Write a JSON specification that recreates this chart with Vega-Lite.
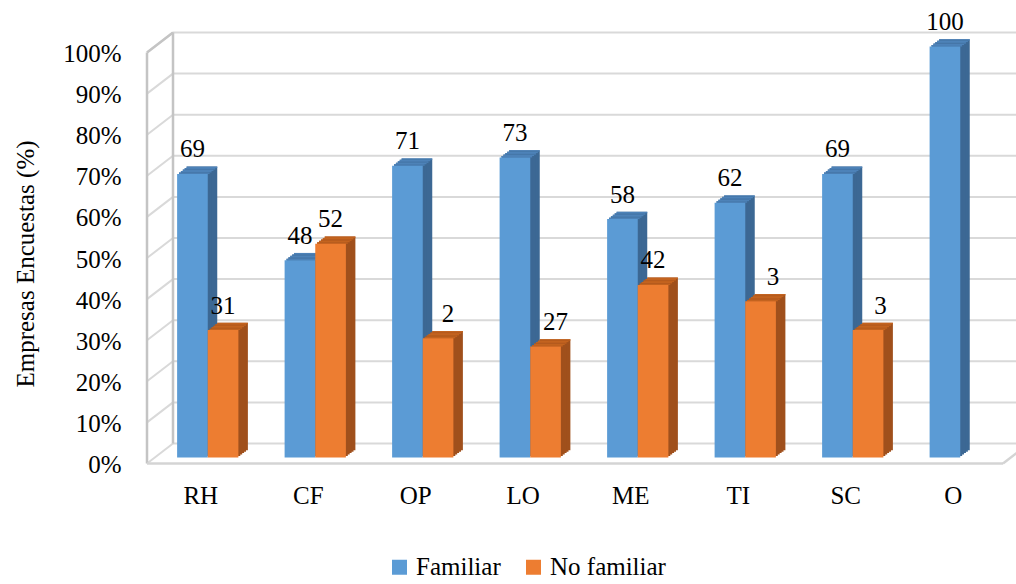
{
  "$schema": "https://vega.github.io/schema/vega-lite/v6.json",
  "width": 860,
  "height": 411,
  "autosize": {"type": "none"},
  "padding": {"left": 154, "top": 46.5, "right": 2, "bottom": 126.5},
  "background": "white",
  "config": {"view": {"stroke": null}, "font": "serif"},
  "datasets": {
    "bars": [
      {"cat": "RH", "s": "Familiar", "v": 69, "label": "69"},
      {"cat": "RH", "s": "No familiar", "v": 31, "label": "31"},
      {"cat": "CF", "s": "Familiar", "v": 48, "label": "48"},
      {"cat": "CF", "s": "No familiar", "v": 52, "label": "52"},
      {"cat": "OP", "s": "Familiar", "v": 71, "label": "71"},
      {"cat": "OP", "s": "No familiar", "v": 29, "label": "2"},
      {"cat": "LO", "s": "Familiar", "v": 73, "label": "73"},
      {"cat": "LO", "s": "No familiar", "v": 27, "label": "27"},
      {"cat": "ME", "s": "Familiar", "v": 58, "label": "58"},
      {"cat": "ME", "s": "No familiar", "v": 42, "label": "42"},
      {"cat": "TI", "s": "Familiar", "v": 62, "label": "62"},
      {"cat": "TI", "s": "No familiar", "v": 38, "label": "3"},
      {"cat": "SC", "s": "Familiar", "v": 69, "label": "69"},
      {"cat": "SC", "s": "No familiar", "v": 31, "label": "3"},
      {"cat": "O", "s": "Familiar", "v": 100, "label": "100"}
    ],
    "ticks": [{"t": 0}, {"t": 10}, {"t": 20}, {"t": 30}, {"t": 40}, {"t": 50}, {"t": 60}, {"t": 70}, {"t": 80}, {"t": 90}, {"t": 100}]
  },
  "data": {"name": "bars"},
  "layer": [
    {
      "data": {"name": "ticks"},
      "mark": {"type": "rule", "stroke": "#d9d9d9", "strokeWidth": 2, "xOffset": -34.75, "x2Offset": 70, "yOffset": -14},
      "encoding": {
        "x": {"datum": "RH", "type": "nominal", "scale": {"domain": ["RH","CF","OP","LO","ME","TI","SC","O"], "paddingInner": 0.43, "paddingOuter": 0.215}},
        "x2": {"datum": "O"},
        "y": {"field": "t", "type": "quantitative", "scale": {"domain": [0, 100]}}
      }
    },
    {
      "data": {"name": "ticks"},
      "mark": {"type": "rule", "stroke": "#d9d9d9", "strokeWidth": 2, "xOffset": -34.75, "x2Offset": -60.75, "yOffset": -14, "y2Offset": 6},
      "encoding": {
        "x": {"datum": "RH", "type": "nominal", "scale": {"domain": ["RH","CF","OP","LO","ME","TI","SC","O"], "paddingInner": 0.43, "paddingOuter": 0.215}},
        "x2": {"datum": "RH"},
        "y": {"field": "t", "type": "quantitative", "scale": {"domain": [0, 100]}},
        "y2": {"field": "t"}
      }
    },
    {
      "data": {"values": [{}]},
      "mark": {"type": "rule", "stroke": "#c4c4c4", "strokeWidth": 2.5, "xOffset": -34.75, "x2Offset": -60.75, "yOffset": -14, "y2Offset": 6},
      "encoding": {
        "x": {"datum": "RH", "type": "nominal", "scale": {"domain": ["RH","CF","OP","LO","ME","TI","SC","O"], "paddingInner": 0.43, "paddingOuter": 0.215}},
        "x2": {"datum": "RH"},
        "y": {"datum": 100, "type": "quantitative", "scale": {"domain": [0, 100]}},
        "y2": {"datum": 100}
      }
    },
    {
      "data": {"values": [{}]},
      "mark": {"type": "rule", "stroke": "#c4c4c4", "strokeWidth": 2.5, "xOffset": -34.75, "yOffset": -14, "y2Offset": -14},
      "encoding": {
        "x": {"datum": "RH", "type": "nominal", "scale": {"domain": ["RH","CF","OP","LO","ME","TI","SC","O"], "paddingInner": 0.43, "paddingOuter": 0.215}},
        "y": {"datum": 100, "type": "quantitative", "scale": {"domain": [0, 100]}},
        "y2": {"datum": 0}
      }
    },
    {
      "data": {"values": [{}]},
      "mark": {"type": "rule", "stroke": "#c4c4c4", "strokeWidth": 2.5, "xOffset": -60.75, "yOffset": 6, "y2Offset": 6},
      "encoding": {
        "x": {"datum": "RH", "type": "nominal", "scale": {"domain": ["RH","CF","OP","LO","ME","TI","SC","O"], "paddingInner": 0.43, "paddingOuter": 0.215}},
        "y": {"datum": 100, "type": "quantitative", "scale": {"domain": [0, 100]}},
        "y2": {"datum": 0}
      }
    },
    {
      "data": {"values": [{}]},
      "mark": {"type": "rule", "stroke": "#d4d4d4", "strokeWidth": 2.5, "xOffset": -60.75, "x2Offset": 42.75, "yOffset": 6},
      "encoding": {
        "x": {"datum": "RH", "type": "nominal", "scale": {"domain": ["RH","CF","OP","LO","ME","TI","SC","O"], "paddingInner": 0.43, "paddingOuter": 0.215}},
        "x2": {"datum": "O"},
        "y": {"datum": 0, "type": "quantitative", "scale": {"domain": [0, 100]}}
      }
    },
    {
      "data": {"values": [{}]},
      "mark": {"type": "rule", "stroke": "#d4d4d4", "strokeWidth": 2.5, "xOffset": 42.75, "x2Offset": 68.75, "yOffset": 6, "y2Offset": -14},
      "encoding": {
        "x": {"datum": "O", "type": "nominal", "scale": {"domain": ["RH","CF","OP","LO","ME","TI","SC","O"], "paddingInner": 0.43, "paddingOuter": 0.215}},
        "x2": {"datum": "O"},
        "y": {"datum": 0, "type": "quantitative", "scale": {"domain": [0, 100]}},
        "y2": {"datum": 0}
      }
    },
    {
      "mark": {"type": "bar", "yOffset": -7.3, "y2Offset": -7.3},
      "encoding": {
        "x": {"field": "cat", "type": "nominal", "scale": {"domain": ["RH","CF","OP","LO","ME","TI","SC","O"], "paddingInner": 0.43, "paddingOuter": 0.215}},
        "xOffset": {"field": "s", "type": "nominal", "scale": {"domain": ["Familiar", "No familiar"], "range": [9.5, 70.775], "paddingInner": 0, "paddingOuter": 0}},
        "y": {"field": "v", "type": "quantitative", "scale": {"domain": [0, 100]}},
        "color": {"condition": {"test": "datum.s === 'Familiar'", "value": "#3c6894"}, "value": "#a0501c"}
      }
    },
    {
      "mark": {"type": "bar", "yOffset": -7.3, "y2Offset": -5.84},
      "encoding": {
        "x": {"field": "cat", "type": "nominal", "scale": {"domain": ["RH","CF","OP","LO","ME","TI","SC","O"], "paddingInner": 0.43, "paddingOuter": 0.215}},
        "xOffset": {"field": "s", "type": "nominal", "scale": {"domain": ["Familiar", "No familiar"], "range": [9.5, 70.775], "paddingInner": 0, "paddingOuter": 0}},
        "y": {"field": "v", "type": "quantitative", "scale": {"domain": [0, 100]}},
        "y2": {"field": "v"},
        "color": {"condition": {"test": "datum.s === 'Familiar'", "value": "#4d82b8"}, "value": "#c3631f"}
      }
    },
    {
      "mark": {"type": "bar", "yOffset": -5.84, "y2Offset": -5.84},
      "encoding": {
        "x": {"field": "cat", "type": "nominal", "scale": {"domain": ["RH","CF","OP","LO","ME","TI","SC","O"], "paddingInner": 0.43, "paddingOuter": 0.215}},
        "xOffset": {"field": "s", "type": "nominal", "scale": {"domain": ["Familiar", "No familiar"], "range": [7.6, 68.875], "paddingInner": 0, "paddingOuter": 0}},
        "y": {"field": "v", "type": "quantitative", "scale": {"domain": [0, 100]}},
        "color": {"condition": {"test": "datum.s === 'Familiar'", "value": "#3c6894"}, "value": "#a0501c"}
      }
    },
    {
      "mark": {"type": "bar", "yOffset": -5.84, "y2Offset": -4.38},
      "encoding": {
        "x": {"field": "cat", "type": "nominal", "scale": {"domain": ["RH","CF","OP","LO","ME","TI","SC","O"], "paddingInner": 0.43, "paddingOuter": 0.215}},
        "xOffset": {"field": "s", "type": "nominal", "scale": {"domain": ["Familiar", "No familiar"], "range": [7.6, 68.875], "paddingInner": 0, "paddingOuter": 0}},
        "y": {"field": "v", "type": "quantitative", "scale": {"domain": [0, 100]}},
        "y2": {"field": "v"},
        "color": {"condition": {"test": "datum.s === 'Familiar'", "value": "#4d82b8"}, "value": "#c3631f"}
      }
    },
    {
      "mark": {"type": "bar", "yOffset": -4.38, "y2Offset": -4.38},
      "encoding": {
        "x": {"field": "cat", "type": "nominal", "scale": {"domain": ["RH","CF","OP","LO","ME","TI","SC","O"], "paddingInner": 0.43, "paddingOuter": 0.215}},
        "xOffset": {"field": "s", "type": "nominal", "scale": {"domain": ["Familiar", "No familiar"], "range": [5.7, 66.975], "paddingInner": 0, "paddingOuter": 0}},
        "y": {"field": "v", "type": "quantitative", "scale": {"domain": [0, 100]}},
        "color": {"condition": {"test": "datum.s === 'Familiar'", "value": "#3c6894"}, "value": "#a0501c"}
      }
    },
    {
      "mark": {"type": "bar", "yOffset": -4.38, "y2Offset": -2.92},
      "encoding": {
        "x": {"field": "cat", "type": "nominal", "scale": {"domain": ["RH","CF","OP","LO","ME","TI","SC","O"], "paddingInner": 0.43, "paddingOuter": 0.215}},
        "xOffset": {"field": "s", "type": "nominal", "scale": {"domain": ["Familiar", "No familiar"], "range": [5.7, 66.975], "paddingInner": 0, "paddingOuter": 0}},
        "y": {"field": "v", "type": "quantitative", "scale": {"domain": [0, 100]}},
        "y2": {"field": "v"},
        "color": {"condition": {"test": "datum.s === 'Familiar'", "value": "#4d82b8"}, "value": "#c3631f"}
      }
    },
    {
      "mark": {"type": "bar", "yOffset": -2.92, "y2Offset": -2.92},
      "encoding": {
        "x": {"field": "cat", "type": "nominal", "scale": {"domain": ["RH","CF","OP","LO","ME","TI","SC","O"], "paddingInner": 0.43, "paddingOuter": 0.215}},
        "xOffset": {"field": "s", "type": "nominal", "scale": {"domain": ["Familiar", "No familiar"], "range": [3.8, 65.075], "paddingInner": 0, "paddingOuter": 0}},
        "y": {"field": "v", "type": "quantitative", "scale": {"domain": [0, 100]}},
        "color": {"condition": {"test": "datum.s === 'Familiar'", "value": "#3c6894"}, "value": "#a0501c"}
      }
    },
    {
      "mark": {"type": "bar", "yOffset": -2.92, "y2Offset": -1.46},
      "encoding": {
        "x": {"field": "cat", "type": "nominal", "scale": {"domain": ["RH","CF","OP","LO","ME","TI","SC","O"], "paddingInner": 0.43, "paddingOuter": 0.215}},
        "xOffset": {"field": "s", "type": "nominal", "scale": {"domain": ["Familiar", "No familiar"], "range": [3.8, 65.075], "paddingInner": 0, "paddingOuter": 0}},
        "y": {"field": "v", "type": "quantitative", "scale": {"domain": [0, 100]}},
        "y2": {"field": "v"},
        "color": {"condition": {"test": "datum.s === 'Familiar'", "value": "#4d82b8"}, "value": "#c3631f"}
      }
    },
    {
      "mark": {"type": "bar", "yOffset": -1.46, "y2Offset": -1.46},
      "encoding": {
        "x": {"field": "cat", "type": "nominal", "scale": {"domain": ["RH","CF","OP","LO","ME","TI","SC","O"], "paddingInner": 0.43, "paddingOuter": 0.215}},
        "xOffset": {"field": "s", "type": "nominal", "scale": {"domain": ["Familiar", "No familiar"], "range": [1.9, 63.175], "paddingInner": 0, "paddingOuter": 0}},
        "y": {"field": "v", "type": "quantitative", "scale": {"domain": [0, 100]}},
        "color": {"condition": {"test": "datum.s === 'Familiar'", "value": "#3c6894"}, "value": "#a0501c"}
      }
    },
    {
      "mark": {"type": "bar", "yOffset": -1.46},
      "encoding": {
        "x": {"field": "cat", "type": "nominal", "scale": {"domain": ["RH","CF","OP","LO","ME","TI","SC","O"], "paddingInner": 0.43, "paddingOuter": 0.215}},
        "xOffset": {"field": "s", "type": "nominal", "scale": {"domain": ["Familiar", "No familiar"], "range": [1.9, 63.175], "paddingInner": 0, "paddingOuter": 0}},
        "y": {"field": "v", "type": "quantitative", "scale": {"domain": [0, 100]}},
        "y2": {"field": "v"},
        "color": {"condition": {"test": "datum.s === 'Familiar'", "value": "#4d82b8"}, "value": "#c3631f"}
      }
    },
    {
      "mark": {"type": "bar"},
      "encoding": {
        "x": {"field": "cat", "type": "nominal", "scale": {"domain": ["RH","CF","OP","LO","ME","TI","SC","O"], "paddingInner": 0.43, "paddingOuter": 0.215},
          "axis": {"title": null, "domain": false, "ticks": false, "tickSize": 0, "grid": false, "labelAngle": 0, "labelAlign": "center", "labelFont": "serif", "labelFontSize": 25, "labelColor": "#000000", "labelPadding": 26, "labelOffset": -7, "labelBaseline": "top"}},
        "xOffset": {"field": "s", "type": "nominal", "scale": {"domain": ["Familiar", "No familiar"], "range": [0, 61.275], "paddingInner": 0, "paddingOuter": 0}},
        "y": {"field": "v", "type": "quantitative", "scale": {"domain": [0, 100]},
          "axis": {"values": [0, 10, 20, 30, 40, 50, 60, 70, 80, 90, 100], "labelExpr": "datum.value + '%'", "domain": false, "ticks": false, "tickSize": 0, "grid": false, "labelFont": "serif", "labelFontSize": 25, "labelColor": "#000000", "labelPadding": 33, "labelOffset": 7, "title": "Empresas Encuestas (%)", "titleFont": "serif", "titleFontSize": 25, "titleFontWeight": "normal", "titleColor": "#000000", "titleAngle": -90, "titleAlign": "center", "titleBaseline": "middle", "titleX": -129, "titleY": 217}},
        "color": {"field": "s", "type": "nominal", "scale": {"domain": ["Familiar", "No familiar"], "range": ["#5b9bd5", "#ed7d31"]},
          "legend": {"orient": "none", "legendX": 233, "legendY": 508, "direction": "horizontal", "title": null, "symbolType": "square", "symbolSize": 225, "symbolStrokeWidth": 0, "labelFont": "serif", "labelFontSize": 25, "labelColor": "#000000", "labelOffset": 4, "columnPadding": 20, "padding": 0, "labelLimit": 400}}
      }
    },
    {
      "transform": [{"filter": "!(datum.s === 'No familiar' && indexof(['OP','LO','TI','SC'], datum.cat) >= 0)"}],
      "mark": {"type": "text", "baseline": "alphabetic", "align": "center", "dy": -16.5, "fontSize": 25, "font": "serif", "color": "#000000"},
      "encoding": {
        "x": {"field": "cat", "type": "nominal", "scale": {"domain": ["RH","CF","OP","LO","ME","TI","SC","O"], "paddingInner": 0.43, "paddingOuter": 0.215}},
        "xOffset": {"field": "s", "type": "nominal", "scale": {"type": "point", "domain": ["Familiar", "No familiar"], "range": [15.32, 45.96], "padding": 0}},
        "y": {"field": "v", "type": "quantitative", "scale": {"domain": [0, 100]}},
        "text": {"field": "label"}
      }
    },
    {
      "transform": [{"filter": "datum.s === 'No familiar' && (datum.cat === 'OP' || datum.cat === 'LO')"}],
      "mark": {"type": "text", "baseline": "alphabetic", "align": "center", "dy": -16.5, "dx": 10, "fontSize": 25, "font": "serif", "color": "#000000"},
      "encoding": {
        "x": {"field": "cat", "type": "nominal", "scale": {"domain": ["RH","CF","OP","LO","ME","TI","SC","O"], "paddingInner": 0.43, "paddingOuter": 0.215}},
        "xOffset": {"field": "s", "type": "nominal", "scale": {"type": "point", "domain": ["Familiar", "No familiar"], "range": [15.32, 45.96], "padding": 0}},
        "y": {"field": "v", "type": "quantitative", "scale": {"domain": [0, 100]}},
        "text": {"field": "label"}
      }
    },
    {
      "transform": [{"filter": "datum.s === 'No familiar' && (datum.cat === 'TI' || datum.cat === 'SC')"}],
      "mark": {"type": "text", "baseline": "alphabetic", "align": "center", "dy": -16.5, "dx": 12.5, "fontSize": 25, "font": "serif", "color": "#000000"},
      "encoding": {
        "x": {"field": "cat", "type": "nominal", "scale": {"domain": ["RH","CF","OP","LO","ME","TI","SC","O"], "paddingInner": 0.43, "paddingOuter": 0.215}},
        "xOffset": {"field": "s", "type": "nominal", "scale": {"type": "point", "domain": ["Familiar", "No familiar"], "range": [15.32, 45.96], "padding": 0}},
        "y": {"field": "v", "type": "quantitative", "scale": {"domain": [0, 100]}},
        "text": {"field": "label"}
      }
    }
  ],
  "resolve": {"scale": {"xOffset": "independent"}}
}
